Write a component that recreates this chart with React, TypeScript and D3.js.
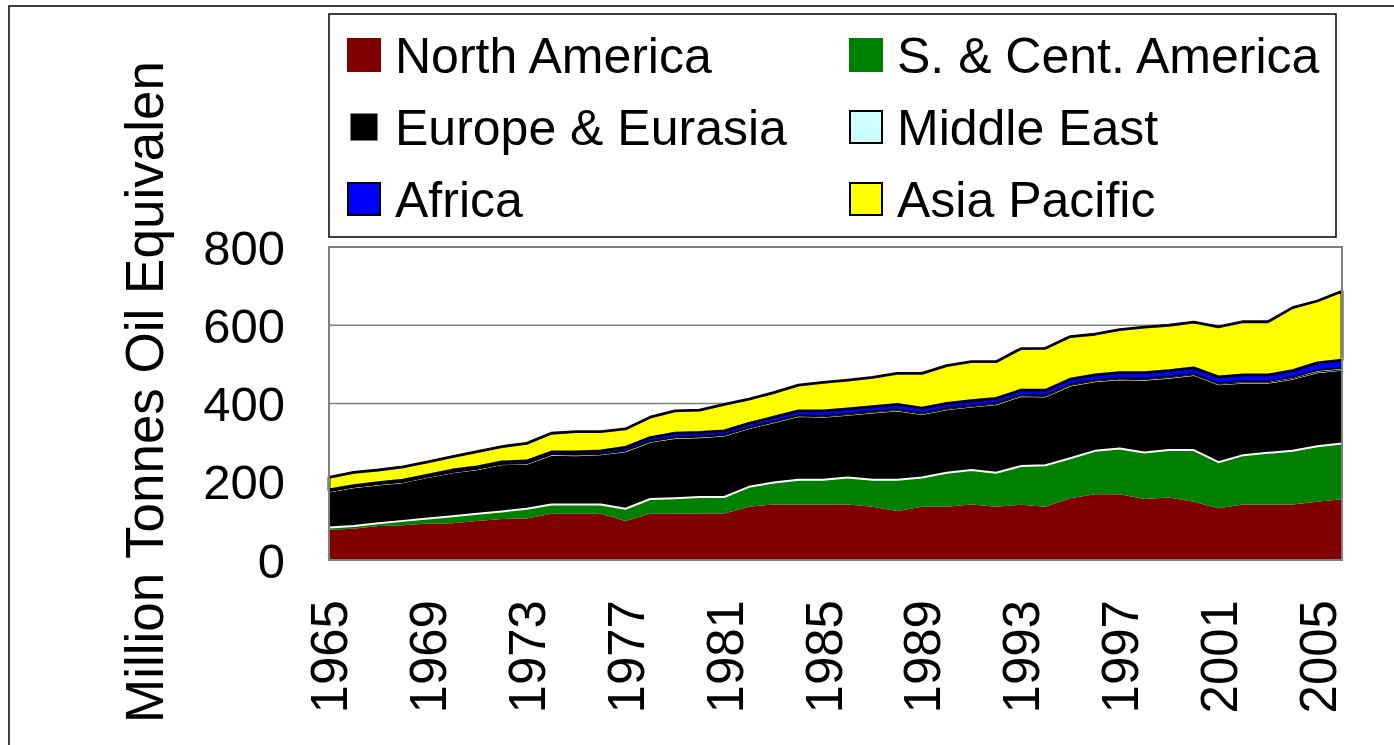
import React from "react";
import * as d3 from "d3";

const years: number[] = d3.range(1965, 2007);
const northAmerica = [77,80,87,89,93,94,100,105,106,118,118,118,100,118,118,119,119,136,142,142,142,142,136,125,136,136,142,136,141,136,158,168,168,156,160,149,132,142,142,142,149,155];
const southCentAmerica = [6,7,7,11,13,18,18,19,25,24,24,24,31,38,40,42,42,51,56,63,63,69,69,80,75,87,88,87,99,106,102,111,117,119,121,132,118,126,132,137,142,143];
const europeEurasia = [92,99,99,99,106,112,114,121,115,127,126,128,147,146,154,153,157,150,154,163,161,160,172,177,162,162,162,175,179,176,186,178,177,186,185,192,199,185,179,184,189,188];
const middleEast = [1,1,1,1,1,1,1,1,1,1,2,2,2,2,2,2,2,2,2,2,3,3,3,3,3,3,3,3,3,3,3,3,3,3,3,3,3,4,4,4,5,5];
const africa = [3,3,4,4,4,5,5,5,6,6,6,7,8,9,10,10,10,10,11,11,12,12,12,13,12,12,12,12,12,13,13,13,14,15,15,15,16,16,16,17,19,20];
const asiaPacific = [32,34,32,34,34,34,39,39,45,48,52,49,47,52,57,57,68,62,63,66,73,74,75,79,89,97,100,94,106,107,109,104,110,116,116,117,128,136,136,161,158,176];

const seriesNames = ["North America", "S. & Cent. America", "Europe & Eurasia", "Middle East", "Africa", "Asia Pacific"];
const seriesValues = [northAmerica, southCentAmerica, europeEurasia, middleEast, africa, asiaPacific];
const yTicks = [0, 200, 400, 600, 800];
const xTickYears = d3.range(1965, 2007, 4);
const yTitle = "Million Tonnes Oil Equivalen";

const fills = ["#800000", "#008000", "#000000", "#ccffff", "#0000ff", "#ffff00"];
const strokes = ["none", "none", "#ffffff", "#000000", "#000000", "#000000"];
const strokeWidths = [0, 0, 2, 1, 1.5, 2.8];

const FONT = "'Liberation Sans', Arial, sans-serif";

export default function App() {
  const left = 329, right = 1342, top = 247, bottom = 560;
  const x = d3.scaleLinear().domain([1965, 2006]).range([left, right]);
  const y = d3.scaleLinear().domain([0, 800]).range([bottom, top]);

  const table = years.map((yr, i) => {
    const row: any = { year: yr };
    seriesNames.forEach((n, k) => (row[n] = seriesValues[k][i]));
    return row;
  });
  const stacked = d3.stack<any>().keys(seriesNames)(table);
  const area = d3
    .area<any>()
    .x((d) => x(d.data.year))
    .y0((d) => y(d[0]))
    .y1((d) => y(d[1]));

  const legendRows = [0, 1, 2];
  const colX = [347, 849];
  const rowCenter = [55, 127, 199];

  return (
    <svg
      width={1394}
      height={745}
      style={{ position: "absolute", left: 0, top: 0, background: "#fff" }}
      fontFamily={FONT}
    >
      <rect x={9} y={6} width={1500} height={900} fill="#fff" stroke="#000" strokeWidth={1.5} />

      {yTicks.filter((t) => t > 0 && t < 800).map((t) => (
        <line key={t} x1={left} x2={right} y1={y(t)} y2={y(t)} stroke="#808080" strokeWidth={1.5} />
      ))}

      {stacked.map((s, k) => (
        <path
          key={seriesNames[k]}
          d={area(s) as string}
          fill={fills[k]}
          stroke={strokes[k]}
          strokeWidth={strokeWidths[k]}
          strokeLinejoin="round"
        />
      ))}

      <rect x={left} y={top} width={right - left} height={bottom - top} fill="none" stroke="#808080" strokeWidth={2} />

      {yTicks.map((t) => (
        <text key={t} x={285} y={y(t) + 17.5} textAnchor="end" fontSize={49} fill="#000">
          {t}
        </text>
      ))}

      {xTickYears.map((yr) => (
        <text
          key={yr}
          transform={`translate(${x(yr)},600) rotate(-90)`}
          textAnchor="end"
          dy="0.36em"
          fontSize={51}
          fill="#000"
        >
          {yr}
        </text>
      ))}

      <text transform="translate(163,723) rotate(-90)" textAnchor="start" fontSize={53} fill="#000">
        {yTitle}
      </text>

      <rect x={329} y={14} width={1007} height={223} fill="#fff" stroke="#000" strokeWidth={1.5} />
      {seriesNames.map((n, k) => {
        const col = k % 2;
        const row = legendRows[Math.floor(k / 2)];
        const cy = rowCenter[row];
        const sw = 34;
        const bordered = strokes[k] !== "none";
        return (
          <g key={n}>
            <rect
              x={colX[col] + (bordered ? 1 : 0)}
              y={cy - sw / 2 + (bordered ? 1 : 0)}
              width={bordered ? sw - 2 : sw}
              height={bordered ? sw - 2 : sw}
              fill={fills[k]}
              stroke={strokes[k]}
              strokeWidth={strokes[k] === "#ffffff" ? 5 : 2}
            />
            <text x={colX[col] + 48} y={cy + 18} fontSize={50} fill="#000">
              {n}
            </text>
          </g>
        );
      })}
    </svg>
  );
}
